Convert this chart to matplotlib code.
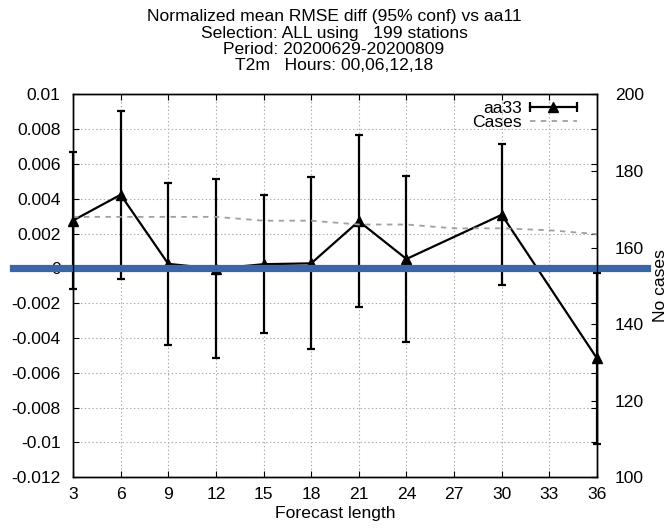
import matplotlib
matplotlib.use("Agg")
import matplotlib.pyplot as plt
from matplotlib.lines import Line2D
from matplotlib.legend_handler import HandlerLine2D
from matplotlib.ticker import FuncFormatter, MultipleLocator

# score differences aa33 vs aa11, T2m, with 95% confidence half-widths
lead = [3, 6, 9, 12, 15, 18, 21, 24, 30, 36]
diff = [0.00275, 0.00423, 0.00026, -0.00002, 0.00024, 0.00029, 0.00271, 0.00054, 0.00308, -0.00517]
conf = [0.00395, 0.00482, 0.00464, 0.00514, 0.00397, 0.00494, 0.00493, 0.00477, 0.00405, 0.00489]

# number of cases per forecast length
case_lead = [3, 6, 9, 12, 15, 18, 21, 24, 27, 30, 33, 36]
cases = [168, 168, 168, 168, 167, 167, 166, 166, 165, 165, 164.5, 163.5]

title_lines = [
    "Normalized mean RMSE diff (95% conf) vs aa11",
    "Selection: ALL using   199 stations",
    "Period: 20200629-20200809",
    "T2m   Hours: 00,06,12,18",
]

FS = 12.6
plt.rcParams["font.family"] = ["Liberation Sans", "DejaVu Sans"]

fig = plt.figure(figsize=(6.72, 5.28), dpi=100)
ax = fig.add_axes([73 / 672, 1 - 477.3 / 528, 524 / 672, 383 / 528])
ax2 = ax.twinx()

grid_kw = dict(color="#a8a8a8", lw=0.8, ls=(0, (1.2, 2.2)))
ax.grid(True, **grid_kw)
ax.set_axisbelow(True)

ax.errorbar(lead, diff, yerr=conf, color="black", lw=1.6, elinewidth=1.6,
            capsize=3, capthick=1.6, marker="^", ms=7, zorder=3, clip_on=False)

ax2.plot(case_lead, cases, color="#a0a0a0", lw=1.3, ls=(0, (3, 3)))

# thick reference line at zero, running past the frame
ax.axhline(0, xmin=-0.1145, xmax=1.0954, color="#3a66a8", lw=5.2,
           clip_on=False, zorder=5)

ax.set_xlim(3, 36)
ax.set_ylim(-0.012, 0.01)
ax2.set_ylim(100, 200)
ax.set_xticks(range(3, 37, 3))
ax.yaxis.set_major_locator(MultipleLocator(0.002))
ax.yaxis.set_major_formatter(FuncFormatter(lambda v, _: f"{round(v, 4) + 0.0:g}"))
ax2.yaxis.set_major_locator(MultipleLocator(20))

ax.tick_params(axis="both", direction="in", length=4, labelsize=FS,
               top=True, right=True, pad=7)
ax.tick_params(axis="y", pad=9)
ax2.tick_params(axis="y", direction="in", length=4, labelsize=FS, pad=13)

ax.set_xlabel("Forecast length", fontsize=FS, labelpad=3)
ax2.set_ylabel("No cases", fontsize=FS, labelpad=6)

for sp in list(ax.spines.values()) + list(ax2.spines.values()):
    sp.set_linewidth(1.0)

# legend: labels first (right aligned), errorbar style sample
err_line = Line2D([], [], color="black", lw=1.6, marker="^", ms=7)
err_caps = Line2D([], [], color="black", lw=0, marker="|", ms=7, mew=1.6)
case_line = Line2D([], [], color="#a0a0a0", lw=1.3, ls=(0, (3, 3)))
ax.legend([(err_line, err_caps), case_line], ["aa33", "Cases"],
          handler_map={err_caps: HandlerLine2D(numpoints=2, marker_pad=0)},
          loc="upper right", bbox_to_anchor=(0.962, 0.983),
          frameon=False, markerfirst=False, fontsize=FS,
          handlelength=2.7, handletextpad=0.45, labelspacing=-0.08,
          borderaxespad=0, borderpad=0)

for i, line in enumerate(title_lines):
    fig.text(334 / 672, 1 - (17 + 16.3 * i) / 528, line, ha="center", va="center",
             fontsize=FS)

fig.savefig("out.png", dpi=100)
